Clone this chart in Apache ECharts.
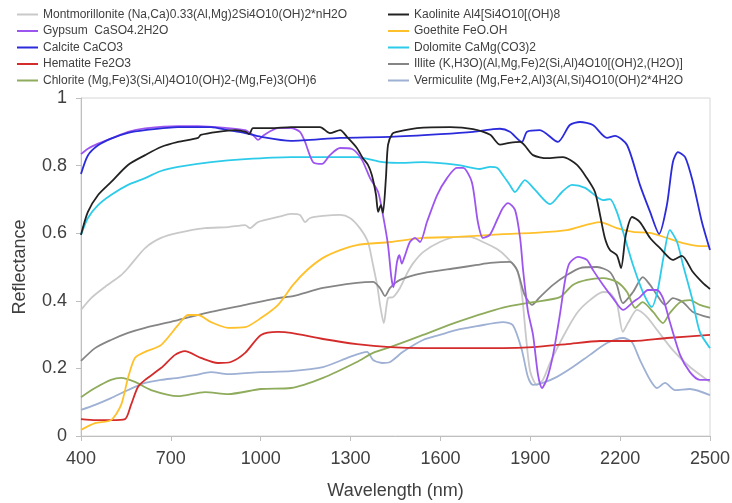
<!DOCTYPE html>
<html>
<head>
<meta charset="utf-8">
<style>html,body{margin:0;padding:0;background:#fff;}#c{width:732px;height:503px;}</style>
<script src="https://cdn.jsdelivr.net/npm/echarts@6/dist/echarts.min.js"></script>
</head>
<body>
<div id="c"></div>
<script>
const xTicks = [400, 700, 1000, 1300, 1600, 1900, 2200, 2500];
const yTicks = [0, 0.2, 0.4, 0.6, 0.8, 1];

const montmorillonite = [[400,0.373],[434,0.408],[480,0.441],[534,0.476],[557,0.497],[614,0.556],[667,0.586],[724,0.601],[814,0.615],[891,0.618],[948,0.624],[964,0.615],[991,0.633],[1058,0.648],[1101,0.657],[1131,0.654],[1148,0.633],[1165,0.645],[1208,0.651],[1265,0.654],[1298,0.645],[1331,0.615],[1358,0.574],[1375,0.506],[1390,0.44],[1398,0.39],[1411,0.334],[1425,0.408],[1442,0.411],[1465,0.438],[1488,0.48],[1508,0.51],[1542,0.544],[1598,0.574],[1655,0.589],[1699,0.589],[1742,0.574],[1789,0.553],[1820,0.53],[1856,0.49],[1872,0.42],[1885,0.3],[1900,0.19],[1922,0.151],[1942,0.166],[1966,0.216],[2009,0.293],[2056,0.364],[2099,0.402],[2143,0.426],[2166,0.423],[2189,0.393],[2209,0.308],[2226,0.334],[2256,0.373],[2290,0.352],[2323,0.314],[2376,0.254],[2433,0.204],[2500,0.16]];
const gypsum = [[400,0.834],[423,0.85],[457,0.865],[500,0.88],[557,0.9],[614,0.91],[724,0.917],[791,0.917],[891,0.911],[948,0.905],[975,0.89],[991,0.876],[1010,0.89],[1058,0.911],[1101,0.911],[1131,0.9],[1148,0.87],[1175,0.81],[1205,0.805],[1231,0.831],[1265,0.852],[1305,0.849],[1338,0.817],[1365,0.763],[1392,0.722],[1408,0.654],[1425,0.565],[1436,0.47],[1443,0.44],[1455,0.515],[1463,0.535],[1471,0.51],[1480,0.53],[1498,0.574],[1515,0.586],[1532,0.574],[1555,0.633],[1589,0.713],[1622,0.763],[1655,0.793],[1676,0.793],[1705,0.751],[1725,0.633],[1742,0.586],[1765,0.595],[1792,0.645],[1809,0.675],[1826,0.689],[1849,0.669],[1866,0.586],[1876,0.491],[1892,0.37],[1909,0.3],[1926,0.18],[1939,0.142],[1956,0.17],[1976,0.24],[1999,0.36],[2016,0.46],[2030,0.51],[2059,0.53],[2089,0.521],[2110,0.49],[2143,0.447],[2176,0.408],[2210,0.373],[2243,0.396],[2266,0.411],[2293,0.432],[2323,0.432],[2343,0.408],[2366,0.337],[2400,0.24],[2433,0.189],[2466,0.166],[2500,0.166]];
const calcite = [[400,0.775],[423,0.83],[457,0.86],[500,0.88],[557,0.897],[614,0.905],[724,0.914],[834,0.914],[891,0.905],[948,0.896],[1001,0.885],[1101,0.873],[1265,0.882],[1432,0.885],[1600,0.893],[1709,0.9],[1776,0.908],[1799,0.909],[1832,0.9],[1872,0.87],[1889,0.9],[1932,0.905],[1992,0.87],[2032,0.92],[2066,0.929],[2109,0.92],[2156,0.882],[2183,0.888],[2223,0.861],[2266,0.743],[2300,0.663],[2330,0.598],[2356,0.683],[2376,0.81],[2393,0.84],[2417,0.825],[2443,0.751],[2473,0.633],[2500,0.55]];
const hematite = [[400,0.05],[450,0.047],[500,0.047],[547,0.05],[567,0.092],[590,0.145],[614,0.166],[667,0.201],[714,0.24],[747,0.251],[800,0.231],[857,0.216],[900,0.219],[948,0.246],[1001,0.299],[1058,0.308],[1101,0.305],[1208,0.287],[1321,0.272],[1432,0.263],[1542,0.26],[1655,0.26],[1809,0.26],[1909,0.263],[2022,0.272],[2133,0.281],[2243,0.281],[2356,0.29],[2500,0.299]];
const chlorite = [[400,0.115],[447,0.142],[500,0.166],[534,0.172],[580,0.16],[634,0.136],[724,0.118],[814,0.13],[891,0.124],[1001,0.139],[1101,0.142],[1208,0.172],[1321,0.219],[1375,0.246],[1432,0.263],[1542,0.299],[1655,0.337],[1809,0.38],[1909,0.396],[1999,0.411],[2042,0.447],[2089,0.462],[2143,0.467],[2189,0.456],[2223,0.426],[2250,0.379],[2275,0.396],[2310,0.367],[2343,0.334],[2366,0.364],[2400,0.396],[2433,0.402],[2466,0.388],[2500,0.379]];
const kaolinite = [[400,0.595],[423,0.663],[457,0.713],[500,0.751],[557,0.802],[614,0.831],[667,0.855],[724,0.87],[791,0.882],[800,0.891],[857,0.9],[914,0.905],[950,0.9],[962,0.893],[974,0.911],[1034,0.911],[1101,0.914],[1198,0.914],[1231,0.896],[1265,0.905],[1291,0.882],[1321,0.852],[1341,0.822],[1358,0.802],[1371,0.772],[1385,0.713],[1392,0.663],[1401,0.683],[1408,0.66],[1418,0.763],[1425,0.861],[1440,0.895],[1455,0.9],[1522,0.911],[1632,0.914],[1709,0.908],[1766,0.891],[1799,0.862],[1830,0.867],[1866,0.87],[1909,0.831],[1956,0.822],[2009,0.825],[2056,0.802],[2089,0.763],[2116,0.722],[2133,0.654],[2149,0.586],[2166,0.55],[2189,0.535],[2203,0.497],[2219,0.595],[2240,0.648],[2266,0.633],[2300,0.586],[2333,0.556],[2376,0.521],[2406,0.533],[2443,0.485],[2476,0.453],[2500,0.435]];
const goethite = [[400,0.018],[447,0.038],[500,0.047],[534,0.092],[557,0.172],[580,0.231],[614,0.249],[667,0.269],[724,0.328],[757,0.358],[791,0.358],[834,0.337],[891,0.32],[948,0.322],[1001,0.349],[1058,0.388],[1108,0.447],[1155,0.491],[1208,0.527],[1265,0.55],[1321,0.565],[1432,0.574],[1542,0.586],[1655,0.589],[1809,0.597],[1909,0.601],[2022,0.609],[2133,0.633],[2189,0.615],[2243,0.604],[2300,0.601],[2356,0.586],[2410,0.571],[2466,0.562],[2500,0.562]];
const dolomite = [[400,0.595],[423,0.645],[457,0.683],[500,0.713],[557,0.743],[614,0.763],[667,0.784],[724,0.796],[834,0.81],[948,0.819],[1101,0.825],[1321,0.825],[1408,0.81],[1455,0.808],[1542,0.81],[1655,0.802],[1732,0.79],[1766,0.796],[1790,0.793],[1810,0.77],[1830,0.745],[1849,0.722],[1882,0.757],[1916,0.728],[1966,0.686],[2006,0.722],[2039,0.743],[2083,0.734],[2123,0.707],[2143,0.698],[2166,0.701],[2189,0.663],[2216,0.586],[2243,0.506],[2276,0.426],[2306,0.382],[2325,0.43],[2345,0.53],[2366,0.609],[2390,0.574],[2410,0.506],[2440,0.408],[2466,0.308],[2500,0.26]];
const illite = [[400,0.222],[447,0.26],[500,0.284],[557,0.305],[614,0.32],[724,0.343],[834,0.367],[948,0.388],[1058,0.408],[1108,0.414],[1208,0.438],[1321,0.453],[1375,0.456],[1398,0.438],[1415,0.414],[1432,0.438],[1465,0.462],[1542,0.482],[1655,0.497],[1722,0.506],[1766,0.512],[1832,0.515],[1856,0.491],[1880,0.42],[1906,0.388],[1932,0.411],[1976,0.447],[2022,0.476],[2066,0.497],[2123,0.5],[2166,0.485],[2189,0.447],[2209,0.393],[2243,0.426],[2276,0.47],[2300,0.447],[2323,0.417],[2350,0.388],[2376,0.408],[2410,0.396],[2443,0.367],[2500,0.35]];
const vermiculite = [[400,0.077],[447,0.092],[500,0.112],[557,0.136],[614,0.157],[667,0.166],[724,0.172],[780,0.18],[834,0.189],[891,0.183],[1001,0.189],[1101,0.192],[1208,0.204],[1298,0.234],[1355,0.249],[1375,0.225],[1405,0.216],[1432,0.219],[1475,0.249],[1542,0.284],[1598,0.299],[1655,0.314],[1722,0.325],[1809,0.337],[1842,0.328],[1872,0.254],[1892,0.175],[1909,0.151],[1942,0.157],[1989,0.175],[2042,0.204],[2099,0.24],[2156,0.275],[2209,0.29],[2239,0.278],[2266,0.225],[2300,0.166],[2323,0.142],[2350,0.157],[2383,0.136],[2433,0.139],[2500,0.121]];

const leftNames = ['Montmorillonite (Na,Ca)0.33(Al,Mg)2Si4O10(OH)2*nH2O','Gypsum  CaSO4.2H2O','Calcite CaCO3','Hematite Fe2O3','Chlorite (Mg,Fe)3(Si,Al)4O10(OH)2-(Mg,Fe)3(OH)6'];
const rightNames = ['Kaolinite Al4[Si4O10[(OH)8','Goethite FeO.OH','Dolomite CaMg(CO3)2','Illite (K,H3O)(Al,Mg,Fe)2(Si,Al)4O10[(OH)2,(H2O)]','Vermiculite (Mg,Fe+2,Al)3(Al,Si)4O10(OH)2*4H2O'];

const seriesDefs = [
  [leftNames[0], montmorillonite, '#c9c9c9'],
  [rightNames[3], illite, '#858585'],
  [rightNames[4], vermiculite, '#9eb0d3'],
  [leftNames[4], chlorite, '#8fab5c'],
  [leftNames[3], hematite, '#d42b2b'],
  [rightNames[1], goethite, '#ffc12b'],
  [rightNames[2], dolomite, '#2dcbea'],
  [leftNames[1], gypsum, '#9d55f0'],
  [leftNames[2], calcite, '#2b2bdc'],
  [rightNames[0], kaolinite, '#222222']
];

const FONT = 'Liberation Sans, Arial, sans-serif';
const legendBase = {
  orient: 'vertical', top: 8.5, padding: 0, itemGap: 4.5, itemWidth: 21, itemHeight: 11,
  icon: 'path://M0,6 L21,6 L21,8 L0,8 Z',
  textStyle: { fontSize: 12, color: '#404040', fontFamily: FONT }
};

const chart = echarts.init(document.getElementById('c'), null, { renderer: 'canvas' });
chart.setOption({
  animation: false,
  backgroundColor: '#fff',
  legend: [
    Object.assign({}, legendBase, { left: 17, data: leftNames }),
    Object.assign({}, legendBase, { left: 388, data: rightNames })
  ],
  grid: { left: 81, right: 22, top: 98, bottom: 67, show: true, borderColor: '#d6d6d6', borderWidth: 1, outerBoundsMode: 'none' },
  xAxis: {
    type: 'value', min: xTicks[0], max: xTicks[xTicks.length - 1], interval: 300,
    name: 'Wavelength (nm)', nameLocation: 'middle', nameGap: 46,
    nameTextStyle: { fontSize: 18, color: '#404040', fontFamily: FONT },
    axisLine: { lineStyle: { color: '#bfbfbf', width: 1 } },
    axisTick: { show: true, length: 5, lineStyle: { color: '#bfbfbf' } },
    axisLabel: { fontSize: 18, color: '#404040', fontFamily: FONT, margin: 14, formatter: v => String(v) },
    splitLine: { show: false }
  },
  yAxis: {
    type: 'value', min: yTicks[0], max: yTicks[yTicks.length - 1], interval: 0.2,
    name: 'Reflectance', nameLocation: 'middle', nameGap: 52,
    nameTextStyle: { fontSize: 18, color: '#404040', fontFamily: FONT },
    axisLine: { show: true, lineStyle: { color: '#bfbfbf', width: 1 } },
    axisTick: { show: true, length: 5, lineStyle: { color: '#bfbfbf' } },
    axisLabel: { fontSize: 18, color: '#404040', fontFamily: FONT, margin: 14, formatter: v => String(v) },
    splitLine: { show: false }
  },
  series: seriesDefs.map(([name, data, color]) => ({
    name, type: 'line', data, symbol: 'none', smooth: 0.25,
    color, lineStyle: { color, width: 1.8 }
  }))
});
</script>
</body>
</html>
